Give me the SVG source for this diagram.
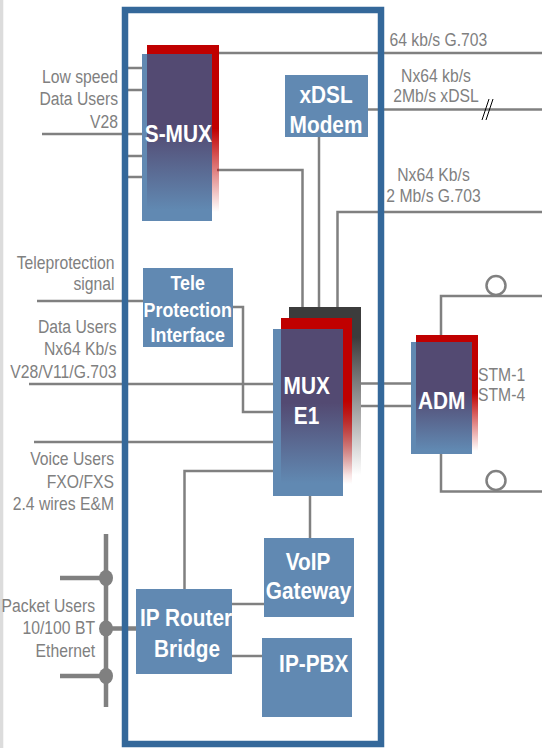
<svg xmlns="http://www.w3.org/2000/svg" width="542" height="748" viewBox="0 0 542 748">
<style>
.ln{fill:none;stroke:#808080;stroke-width:2.5}
.bus{fill:none;stroke:#808080;stroke-width:4.5}
.box{fill:#6189b2}
.lbl{font-family:"Liberation Sans",Arial,sans-serif;font-size:18.5px;fill:#808080}
.e{text-anchor:end}
.m{text-anchor:middle}
.bl{font-family:"Liberation Sans",Arial,sans-serif;font-weight:bold;font-size:24.5px;fill:#fff;text-anchor:middle}
.sm{font-size:21px}
</style>
<defs>
<linearGradient id="gPur" x1="0" y1="0" x2="0" y2="1">
<stop offset="0" stop-color="#534a72"/>
<stop offset="0.48" stop-color="#534a72"/>
<stop offset="1" stop-color="#534a72" stop-opacity="0"/>
</linearGradient>
<linearGradient id="gRed" x1="0" y1="0" x2="0" y2="1">
<stop offset="0" stop-color="#c00000"/>
<stop offset="0.5" stop-color="#c00000"/>
<stop offset="1" stop-color="#c00000" stop-opacity="0"/>
</linearGradient>
<linearGradient id="gDark" x1="0" y1="0" x2="0" y2="1">
<stop offset="0" stop-color="#3c3c3c"/>
<stop offset="0.18" stop-color="#3c3c3c"/>
<stop offset="1" stop-color="#3c3c3c" stop-opacity="0"/>
</linearGradient>
</defs>
<rect width="542" height="748" fill="#fff"/>
<rect x="0" y="0" width="3.3" height="748" fill="#dcdcdc"/>

<g id="connectors">
<path class="ln" d="M122 68H142M122 90H142M42 134H142M122 156H142M122 177H142"/>
<path class="ln" d="M219 53H542"/>
<path class="ln" d="M368 109.5H542"/>
<path class="ln" d="M319 137V307"/>
<path class="ln" d="M217 170H302.5V307"/>
<path class="ln" d="M542 212H337.5V307"/>
<path class="ln" d="M37 301H143"/>
<path class="ln" d="M233 307H243V412H273"/>
<path class="ln" d="M29 384H273"/>
<path class="ln" d="M34 442H273"/>
<path class="ln" d="M273 471H184.5V589"/>
<path class="ln" d="M310 496V538"/>
<path class="ln" d="M232 604H264"/>
<path class="ln" d="M232 656H262"/>
<path class="ln" d="M361 383.5H411M361 406H411"/>
<path class="ln" d="M441 335V296H542"/>
<circle class="ln" cx="496" cy="285.5" r="9.5" fill="#fff"/>
<path class="ln" d="M441 454V491.5H542"/>
<circle class="ln" cx="496" cy="480.5" r="9.5" fill="#fff"/>
<path class="bus" d="M106 534V707M60 578H106M60 676H106M106 628.5H136"/>
<ellipse cx="106" cy="578" rx="7" ry="8" fill="#808080"/>
<ellipse cx="106" cy="628.5" rx="7" ry="8" fill="#808080"/>
<ellipse cx="106" cy="676" rx="7" ry="8" fill="#808080"/>
<path d="M482 120L489 99M486 120L493 99" stroke="#000" stroke-width="1" fill="none"/>
</g>

<rect id="frame" x="125" y="10" width="256" height="734" fill="none" stroke="#34689a" stroke-width="6.5"/>

<g id="smux">
<rect x="147" y="45" width="72" height="167" fill="url(#gRed)"/>
<rect x="142" y="54" width="70" height="167" class="box"/>
<rect x="147" y="54" width="65" height="156" fill="url(#gPur)"/>
<text class="bl" transform="translate(178.3 141.5) scale(.85 1)">S-MUX</text>
</g>

<g id="xdsl">
<rect x="285" y="75" width="83" height="62" class="box"/>
<text class="bl" transform="translate(326 102.5) scale(.85 1)">xDSL</text>
<text class="bl" transform="translate(326 133) scale(.85 1)">Modem</text>
</g>

<g id="tele">
<rect x="143" y="268" width="90" height="79" class="box"/>
<text class="bl sm" transform="translate(187.7 289.5) scale(.85 1)">Tele</text>
<text class="bl sm" transform="translate(187.7 317) scale(.85 1)">Protection</text>
<text class="bl sm" transform="translate(187.7 341.5) scale(.85 1)">Interface</text>
</g>

<g id="muxe1">
<rect x="289" y="307" width="72" height="168" fill="url(#gDark)"/>
<rect x="281" y="318" width="71" height="166" fill="url(#gRed)"/>
<rect x="273" y="329" width="70" height="167" class="box"/>
<rect x="281" y="329" width="62" height="154" fill="url(#gPur)"/>
<text class="bl" transform="translate(306.7 393.5) scale(.85 1)">MUX</text>
<text class="bl" transform="translate(306.5 424) scale(.85 1)">E1</text>
</g>

<g id="adm">
<rect x="416" y="335" width="62" height="116" fill="url(#gRed)"/>
<rect x="411" y="342" width="61" height="112" class="box"/>
<rect x="416" y="342" width="56" height="108" fill="url(#gPur)"/>
<text class="bl" transform="translate(441.7 408.5) scale(.85 1)">ADM</text>
</g>

<g id="voip">
<rect x="264" y="538" width="90" height="79" class="box"/>
<text class="bl" transform="translate(308 570) scale(.85 1)">VoIP</text>
<text class="bl" transform="translate(308.5 599) scale(.85 1)">Gateway</text>
</g>

<g id="iprouter">
<rect x="136" y="589" width="96" height="85" class="box"/>
<text class="bl" transform="translate(186 626) scale(.85 1)">IP Router</text>
<text class="bl" transform="translate(187 656.5) scale(.85 1)">Bridge</text>
</g>

<g id="ippbx">
<rect x="262" y="638" width="90" height="79" class="box"/>
<text class="bl" transform="translate(313.8 671.7) scale(.85 1)">IP-PBX</text>
</g>

<g id="labels">
<text class="lbl e" transform="translate(118 83) scale(.85 1)">Low speed</text>
<text class="lbl e" transform="translate(118 105) scale(.85 1)">Data Users</text>
<text class="lbl e" transform="translate(118 128) scale(.85 1)">V28</text>
<text class="lbl e" transform="translate(114.5 269) scale(.85 1)">Teleprotection</text>
<text class="lbl e" transform="translate(114.5 290) scale(.85 1)">signal</text>
<text class="lbl e" transform="translate(116.5 333) scale(.85 1)">Data Users</text>
<text class="lbl e" transform="translate(116.5 355) scale(.85 1)">Nx64 Kb/s</text>
<text class="lbl e" transform="translate(116.5 378) scale(.85 1)">V28/V11/G.703</text>
<text class="lbl e" transform="translate(114 465) scale(.85 1)">Voice Users</text>
<text class="lbl e" transform="translate(114 487.5) scale(.85 1)">FXO/FXS</text>
<text class="lbl e" transform="translate(114 510) scale(.85 1)">2.4 wires E&amp;M</text>
<text class="lbl e" transform="translate(95 612) scale(.85 1)">Packet Users</text>
<text class="lbl e" transform="translate(95 634) scale(.85 1)">10/100 BT</text>
<text class="lbl e" transform="translate(95 657) scale(.85 1)">Ethernet</text>
<text class="lbl" transform="translate(389.5 46) scale(.85 1)">64 kb/s G.703</text>
<text class="lbl m" transform="translate(436 82) scale(.85 1)">Nx64 kb/s</text>
<text class="lbl m" transform="translate(436 102) scale(.85 1)">2Mb/s xDSL</text>
<text class="lbl m" transform="translate(433.5 181) scale(.85 1)">Nx64 Kb/s</text>
<text class="lbl m" transform="translate(433.5 202) scale(.85 1)">2 Mb/s G.703</text>
<text class="lbl" transform="translate(478 381) scale(.85 1)">STM-1</text>
<text class="lbl" transform="translate(478 401) scale(.85 1)">STM-4</text>
</g>
</svg>
